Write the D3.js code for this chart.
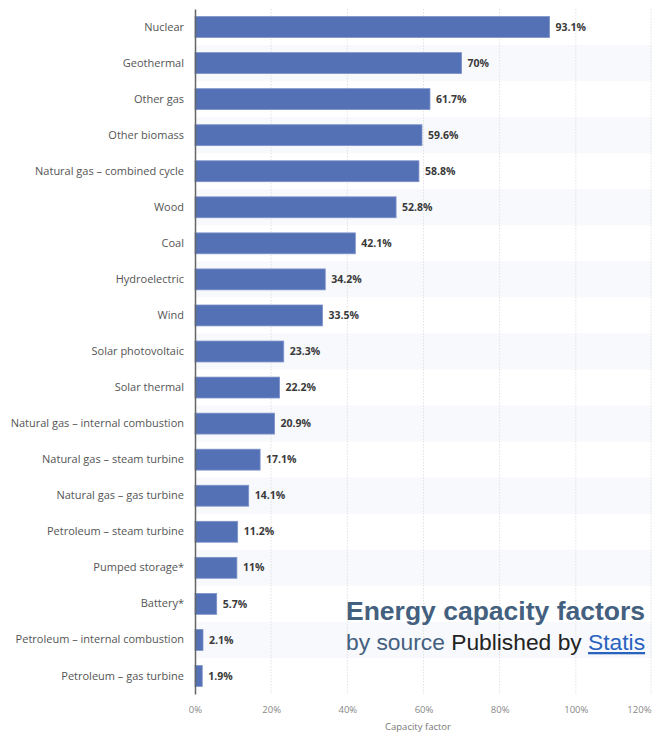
<!DOCTYPE html>
<html>
<head>
<meta charset="utf-8">
<script src="https://cdn.jsdelivr.net/npm/d3@7/dist/d3.min.js"></script>
<style>
  html, body { margin: 0; padding: 0; background: #fff; }
  svg { display: block; }
</style>
</head>
<body>
<svg id="chart" width="652" height="735"></svg>
<script>
// Capacity factor by energy source (percent)
const sources = [
  "Nuclear", "Geothermal", "Other gas", "Other biomass",
  "Natural gas – combined cycle", "Wood", "Coal", "Hydroelectric", "Wind",
  "Solar photovoltaic", "Solar thermal", "Natural gas – internal combustion",
  "Natural gas – steam turbine", "Natural gas – gas turbine",
  "Petroleum – steam turbine", "Pumped storage*", "Battery*",
  "Petroleum – internal combustion", "Petroleum – gas turbine"
];
const capacityFactor = [
  93.1, 70, 61.7, 59.6, 58.8, 52.8, 42.1, 34.2, 33.5,
  23.3, 22.2, 20.9, 17.1, 14.1, 11.2, 11, 5.7, 2.1, 1.9
];
const xTicks = [0, 20, 40, 60, 80, 100, 120];
const axisTitle = "Capacity factor";

const data = sources.map((s, i) => ({ source: s, value: capacityFactor[i] }));

const svg = d3.select("#chart");
const W = 652;

const x = d3.scaleLinear().domain([0, 120]).range([195, 652]);
const y = d3.scaleBand().domain(sources).range([9, 694])
  .paddingInner(0.42).paddingOuter(0.21);
const step = y.step();

// alternating row shading
svg.append("g").selectAll("rect")
  .data(data.filter((d, i) => i % 2 === 1))
  .join("rect")
  .attr("x", x(0))
  .attr("y", d => y(d.source) - step * 0.21)
  .attr("width", W - x(0))
  .attr("height", step)
  .attr("fill", "#f7f9fc");

// vertical grid lines
svg.append("g").selectAll("line")
  .data(xTicks.slice(1))
  .join("line")
  .attr("x1", d => Math.min(x(d), W - 1))
  .attr("x2", d => Math.min(x(d), W - 1))
  .attr("y1", 9).attr("y2", 694)
  .attr("stroke", "#e2e2e2")
  .attr("stroke-width", 1)
  .attr("stroke-dasharray", "1.5,1.5");

// bars
svg.append("g").selectAll("rect")
  .data(data)
  .join("rect")
  .attr("x", x(0))
  .attr("y", d => y(d.source))
  .attr("width", d => x(d.value) - x(0))
  .attr("height", y.bandwidth())
  .attr("fill", "#5571b6")
  .attr("stroke", "#7d92c9")
  .attr("stroke-width", 0.8);

// value labels
svg.append("g").selectAll("text")
  .data(data)
  .join("text")
  .attr("x", d => x(d.value) + 6)
  .attr("y", d => y(d.source) + y.bandwidth() / 2)
  .attr("dy", "0.35em")
  .attr("font-family", "'Open Sans', sans-serif")
  .attr("font-size", 10.5)
  .attr("font-weight", 700)
  .attr("fill", "#3a3a3a")
  .text(d => d3.format("~")(d.value) + "%");

// category axis
const yAxis = svg.append("g")
  .attr("transform", `translate(${x(0)},0)`)
  .call(d3.axisLeft(y).tickSize(0).tickPadding(11));
yAxis.select(".domain").attr("stroke", "#666").attr("stroke-width", 1.5);
yAxis.selectAll("text")
  .attr("font-family", "'Open Sans', sans-serif")
  .attr("font-size", 11)
  .attr("fill", "#555");

// value axis
const xAxis = svg.append("g")
  .attr("transform", "translate(0,694)")
  .call(d3.axisBottom(x).tickValues(xTicks).tickSize(0).tickPadding(12)
    .tickFormat(d => d + "%"));
xAxis.select(".domain").remove();
xAxis.selectAll("text")
  .attr("font-family", "'Open Sans', sans-serif")
  .attr("font-size", 9.5)
  .attr("fill", "#888")
  .attr("text-anchor", d => d === 120 ? "end" : "middle")
  .attr("dx", d => d === 120 ? -1 : 0);

svg.append("text")
  .attr("x", (x(0) + 641) / 2)
  .attr("y", 730)
  .attr("text-anchor", "middle")
  .attr("font-family", "'Open Sans', sans-serif")
  .attr("font-size", 9.5)
  .attr("fill", "#777")
  .text(axisTitle);

// title block
svg.append("text")
  .attr("x", 346).attr("y", 620)
  .attr("font-family", "'Liberation Sans', Arial, sans-serif")
  .attr("font-size", 26.5)
  .attr("font-weight", 700)
  .attr("fill", "#44607f")
  .text("Energy capacity factors");

const sub = svg.append("text")
  .attr("x", 346).attr("y", 650)
  .attr("font-family", "'Liberation Sans', Arial, sans-serif")
  .attr("font-size", 22.8);
sub.append("tspan").attr("fill", "#44607f").text("by source ");
sub.append("tspan").attr("fill", "#222").text("Published by ");
sub.append("tspan").attr("fill", "#2a62c0").attr("text-decoration", "underline").text("Statis");
</script>
</body>
</html>
